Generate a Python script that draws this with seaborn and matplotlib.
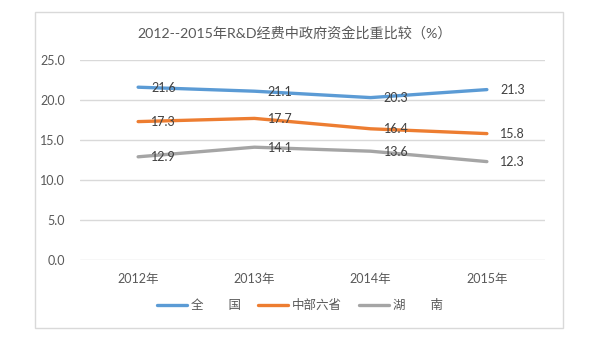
import matplotlib
matplotlib.use("Agg")
import matplotlib.pyplot as plt
import seaborn as sns
import pandas as pd
from matplotlib.patches import Rectangle

years = ["2012年", "2013年", "2014年", "2015年"]
series_names = ["全\u3000\u3000国", "中部六省", "湖\u3000\u3000南"]
nation = [21.6, 21.1, 20.3, 21.3]
central6 = [17.3, 17.7, 16.4, 15.8]
hunan = [12.9, 14.1, 13.6, 12.3]
yticks = [0, 5, 10, 15, 20, 25]
title = "2012--2015年R&D经费中政府资金比重比较（%）"

colors = ["#5B9BD5", "#ED7D31", "#A5A5A5"]
text_color = "#595959"

sns.set_theme(style="white")
fam = ["Lato", "Noto Sans CJK SC", "DejaVu Sans"]
plt.rcParams["font.family"] = fam

rows = []
for name, vals in zip(series_names, [nation, central6, hunan]):
    for y, v in zip(years, vals):
        rows.append({"year": y, "value": v, "series": name})
df = pd.DataFrame(rows)

W, H = 589, 340
fig = plt.figure(figsize=(W / 100, H / 100), dpi=100)
fig.patch.set_facecolor("white")

# chart frame
fig.patches.append(Rectangle((35 / W, 1 - 328 / H), (563 - 35) / W, (328 - 12) / H,
                             transform=fig.transFigure, fill=False,
                             edgecolor="#D9D9D9", linewidth=1))

ax = fig.add_axes([80 / W, 1 - 260 / H, (545 - 80) / W, 200 / H])
ax.set_facecolor("none")

sns.lineplot(data=df, x="year", y="value", hue="series", hue_order=series_names,
             palette=colors, linewidth=2.4, sort=False, ax=ax, legend=True)

ax.set_xlim(-0.5, 3.5)
ax.set_ylim(0, 25)
ax.set_yticks(yticks)
ax.set_yticklabels([f"{t:.1f}" for t in yticks])
ax.grid(axis="y", color="#D9D9D9", linewidth=1)
ax.set_axisbelow(True)
for s in ax.spines.values():
    s.set_visible(False)
ax.tick_params(axis="both", length=0, colors=text_color, labelsize=9)
ax.tick_params(axis="y", pad=11)
ax.tick_params(axis="x", pad=9)
ax.set_xlabel("")
ax.set_ylabel("")

# data labels
for name, vals in zip(series_names, [nation, central6, hunan]):
    for i, v in enumerate(vals):
        ax.annotate(f"{v:.1f}", (i, v), xytext=(9.5, -0.5), textcoords="offset points",
                    ha="left", va="center", fontsize=9, color="#404040")

fig.text(295 / W, 1 - 33 / H, title, ha="center", va="center",
         fontsize=10.2, color=text_color)

handles, labels = ax.get_legend_handles_labels()
ax.legend_.remove()
leg = fig.legend(handles, labels, loc="center", bbox_to_anchor=(300 / W, 1 - 305 / H),
                 ncol=3, frameon=False, fontsize=9, handlelength=2.4,
                 handletextpad=0.3, columnspacing=1.4, labelcolor=text_color)
for line in leg.get_lines():
    line.set_linewidth(2.4)

fig.savefig("out.png", dpi=100, facecolor="white")
